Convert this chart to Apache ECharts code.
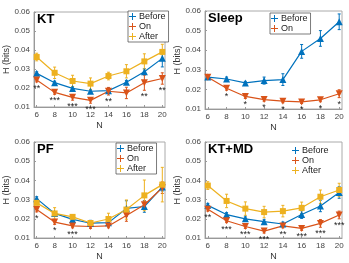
<!DOCTYPE html>
<html><head><meta charset="utf-8">
<script src="https://cdn.jsdelivr.net/npm/echarts@6/dist/echarts.min.js"></script>
<style>html,body{margin:0;padding:0;background:#fff}#c{width:349px;height:263px}</style>
</head><body><div id="c"></div>
<script>
const N = [6, 8, 10, 12, 14, 16, 18, 20];
const yTicks = ['0.01', '0.02', '0.03', '0.04', '0.05', '0.06'];

// KT
const ktBefore = [0.0277, 0.0228, 0.0198, 0.0183, 0.0186, 0.0230, 0.0286, 0.0356];
const ktBeforeErr = [0.0008, 0.0008, 0.0008, 0.0008, 0.0008, 0.0010, 0.0015, 0.0045];
const ktOn = [0.0242, 0.0177, 0.0151, 0.0135, 0.0183, 0.0174, 0.0228, 0.0250];
const ktOnErr = [0.0010, 0.0010, 0.0015, 0.0015, 0.0020, 0.0030, 0.0040, 0.0030];
const ktAfter = [0.0363, 0.0280, 0.0237, 0.0223, 0.0263, 0.0288, 0.0340, 0.0390];
const ktAfterErr = [0.0020, 0.0030, 0.0030, 0.0030, 0.0020, 0.0035, 0.0040, 0.0040];
const ktStars = ['**', '***', '***', '***', '**', '', '**', '**'];

// Sleep
const slBefore = [0.0263, 0.0253, 0.0233, 0.0245, 0.0250, 0.0394, 0.0460, 0.0545];
const slBeforeErr = [0.0008, 0.0010, 0.0008, 0.0018, 0.0030, 0.0035, 0.0040, 0.0040];
const slOn = [0.0262, 0.0206, 0.0164, 0.0148, 0.0140, 0.0136, 0.0147, 0.0178];
const slOnErr = [0.0008, 0.0010, 0.0010, 0.0008, 0.0008, 0.0008, 0.0010, 0.0020];
const slStars = ['', '*', '*', '*', '*', '*', '*', '*'];

// PF
const pfBefore = [0.0305, 0.0228, 0.0197, 0.0177, 0.0180, 0.0254, 0.0264, 0.0365];
const pfBeforeErr = [0.0010, 0.0010, 0.0010, 0.0015, 0.0015, 0.0040, 0.0030, 0.0020];
const pfOn = [0.0248, 0.0183, 0.0163, 0.0160, 0.0163, 0.0217, 0.0273, 0.0362];
const pfOnErr = [0.0012, 0.0012, 0.0010, 0.0010, 0.0010, 0.0030, 0.0020, 0.0030];
const pfAfter = [0.0283, 0.0228, 0.0210, 0.0178, 0.0199, 0.0248, 0.0322, 0.0378];
const pfAfterErr = [0.0010, 0.0030, 0.0010, 0.0010, 0.0030, 0.0050, 0.0080, 0.0090];
const pfStars = ['*', '*', '***', '', '', '', '', ''];

// KT+MD
const kmBefore = [0.0270, 0.0222, 0.0200, 0.0185, 0.0173, 0.0222, 0.0267, 0.0337];
const kmBeforeErr = [0.0010, 0.0010, 0.0010, 0.0010, 0.0010, 0.0020, 0.0030, 0.0030];
const kmOn = [0.0250, 0.0190, 0.0160, 0.0136, 0.0163, 0.0150, 0.0176, 0.0220];
const kmOnErr = [0.0010, 0.0010, 0.0010, 0.0010, 0.0010, 0.0010, 0.0020, 0.0020];
const kmAfter = [0.0373, 0.0293, 0.0253, 0.0235, 0.0240, 0.0257, 0.0315, 0.0350];
const kmAfterErr = [0.0020, 0.0035, 0.0035, 0.0030, 0.0030, 0.0030, 0.0035, 0.0035];
const kmStars = ['**', '***', '***', '***', '**', '***', '***', '***'];

const C = { Before: '#0072BD', On: '#D95319', After: '#EDB120' };
const SYM = { Before: ['triangle', 0], On: ['triangle', 180], After: ['rect', 0] };
const FONT = 'Liberation Sans, Arial, sans-serif';
const PLUS = 'path://M0,4.3L10,4.3L10,5.7L0,5.7Z M4.3,0L5.7,0L5.7,10L4.3,10Z';

const panels = [
  { title: 'KT', grid: { left: 34, top: 12, width: 131, height: 95 }, legend: { left: 128, top: 11, box: true },
    series: [['Before', ktBefore, ktBeforeErr], ['On', ktOn, ktOnErr], ['After', ktAfter, ktAfterErr]], stars: ktStars, on: [ktOn, ktOnErr] },
  { title: 'Sleep', grid: { left: 205, top: 11, width: 137, height: 98 }, legend: { left: 270, top: 13, box: true },
    series: [['Before', slBefore, slBeforeErr], ['On', slOn, slOnErr]], stars: slStars, on: [slOn, slOnErr] },
  { title: 'PF', grid: { left: 34, top: 142, width: 131, height: 96 }, legend: { left: 116, top: 143, box: true },
    series: [['Before', pfBefore, pfBeforeErr], ['On', pfOn, pfOnErr], ['After', pfAfter, pfAfterErr]], stars: pfStars, on: [pfOn, pfOnErr] },
  { title: 'KT+MD', grid: { left: 205, top: 142, width: 137, height: 96 }, legend: { left: 291, top: 145, box: false },
    series: [['Before', kmBefore, kmBeforeErr], ['On', kmOn, kmOnErr], ['After', kmAfter, kmAfterErr]], stars: kmStars, on: [kmOn, kmOnErr] }
];

const option = { animation: false, grid: [], xAxis: [], yAxis: [], series: [], legend: [], title: [] };

panels.forEach((p, gi) => {
  option.grid.push(Object.assign({ show: true, borderColor: '#aaa', borderWidth: 1, backgroundColor: 'transparent' }, p.grid));
  option.xAxis.push({
    type: 'value', gridIndex: gi, min: 5.7, max: 20.3,
    name: 'N', nameLocation: 'middle', nameGap: 14,
    nameTextStyle: { fontSize: 9, color: '#333', fontFamily: FONT },
    axisLine: { lineStyle: { color: '#999' } },
    axisTick: { inside: true, length: 2, lineStyle: { color: '#999' }, customValues: N },
    axisLabel: { fontSize: 8, color: '#444', fontFamily: FONT, margin: 4, customValues: N },
    splitLine: { show: false }
  });
  option.yAxis.push({
    type: 'value', gridIndex: gi, min: 0.01, max: 0.06, interval: 0.01,
    name: 'H (bits)', nameLocation: 'middle', nameGap: 21,
    nameTextStyle: { fontSize: 9, color: '#333', fontFamily: FONT },
    axisLine: { show: true, lineStyle: { color: '#999' } },
    axisTick: { show: true, inside: true, length: 2, lineStyle: { color: '#999' } },
    axisLabel: { fontSize: 8, color: '#444', fontFamily: FONT, margin: 4,
      formatter: v => yTicks[Math.round(v * 100) - 1] },
    splitLine: { show: false }
  });
  option.title.push({ text: p.title, left: p.grid.left + 3, top: p.grid.top + 1,
    textStyle: { fontSize: 13, fontWeight: 'bold', color: '#000', fontFamily: FONT }, padding: 0 });
  option.legend.push({
    orient: 'vertical', left: p.legend.left, top: p.legend.top,
    data: p.series.map(s => ({ name: s[0], icon: PLUS, itemStyle: { color: C[s[0]] } })),
    itemWidth: 9, itemHeight: 7, itemGap: 1,
    padding: [1, 3, 1, 1], borderColor: p.legend.box ? '#444' : 'transparent', borderWidth: 0.7,
    backgroundColor: p.legend.box ? '#fff' : 'transparent',
    textStyle: { fontSize: 9, color: '#222', fontFamily: FONT, lineHeight: 8, padding: [0, 0, 0, -3] },
    selectedMode: false
  });
  p.series.forEach(([name, vals, errs]) => {
    option.series.push({
      type: 'custom', name: name + '_err' + gi, xAxisIndex: gi, yAxisIndex: gi, z: 2,
      data: N.map((n, i) => [n, vals[i], errs[i]]),
      renderItem: (params, api) => {
        const x = api.value(0), y = api.value(1), e = api.value(2);
        const lo = api.coord([x, y - e]), hi = api.coord([x, y + e]);
        const st = { stroke: C[name], lineWidth: 1 };
        return { type: 'group', children: [
          { type: 'line', shape: { x1: lo[0], y1: lo[1], x2: hi[0], y2: hi[1] }, style: st },
          { type: 'line', shape: { x1: lo[0] - 1.5, y1: lo[1], x2: lo[0] + 1.5, y2: lo[1] }, style: st },
          { type: 'line', shape: { x1: hi[0] - 1.5, y1: hi[1], x2: hi[0] + 1.5, y2: hi[1] }, style: st }
        ] };
      }
    });
    option.series.push({
      type: 'line', name: name, xAxisIndex: gi, yAxisIndex: gi, z: 3,
      data: N.map((n, i) => [n, vals[i]]),
      symbol: SYM[name][0], symbolRotate: SYM[name][1], symbolSize: name === 'After' ? 6 : 7,
      lineStyle: { color: C[name], width: 1.2 }, itemStyle: { color: C[name] },
      color: C[name]
    });
  });
  const [onV, onE] = p.on;
  const stars = p.stars;
  option.series.push({
    type: 'custom', name: 'stars' + gi, xAxisIndex: gi, yAxisIndex: gi, z: 4,
    data: N.map((n, i) => [n, onV[i] - onE[i]]),
    renderItem: (params, api) => {
      const pt = api.coord([api.value(0), api.value(1)]);
      return { type: 'text', x: pt[0], y: pt[1] + 2,
        style: { text: stars[params.dataIndex], fill: '#222', fontSize: 9, fontFamily: FONT,
          align: 'center', verticalAlign: 'top' } };
    }
  });
});

const chart = echarts.init(document.getElementById('c'), null, { renderer: 'canvas' });
chart.setOption(option);
</script></body></html>
